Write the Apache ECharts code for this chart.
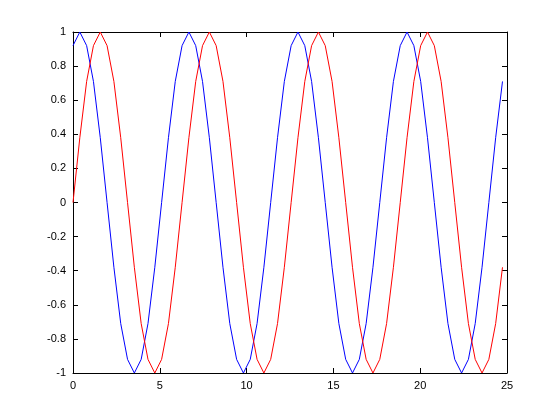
<!DOCTYPE html>
<html>
<head>
<meta charset="utf-8">
<script src="https://cdn.jsdelivr.net/npm/echarts@6/dist/echarts.min.js"></script>
<style>html,body{margin:0;padding:0;background:#fff}#c{width:560px;height:420px}</style>
</head>
<body>
<div id="c"></div>
<script>
var xValues = [0,0.393,0.785,1.178,1.571,1.963,2.356,2.749,3.142,3.534,3.927,4.320,4.712,5.105,5.498,5.890,
  6.283,6.676,7.069,7.461,7.854,8.247,8.639,9.032,9.425,9.817,10.210,10.603,10.996,11.388,11.781,12.174,
  12.566,12.959,13.352,13.744,14.137,14.530,14.923,15.315,15.708,16.101,16.493,16.886,17.279,17.671,18.064,18.457,
  18.850,19.242,19.635,20.028,20.420,20.813,21.206,21.598,21.991,22.384,22.777,23.169,23.562,23.955,24.347,24.740];
var blueValues = [0.92,1,0.92,0.71,0.38,0,-0.38,-0.71,-0.92,-1,-0.92,-0.71,-0.38,0,0.38,0.71,
  0.92,1,0.92,0.71,0.38,0,-0.38,-0.71,-0.92,-1,-0.92,-0.71,-0.38,0,0.38,0.71,
  0.92,1,0.92,0.71,0.38,0,-0.38,-0.71,-0.92,-1,-0.92,-0.71,-0.38,0,0.38,0.71,
  0.92,1,0.92,0.71,0.38,0,-0.38,-0.71,-0.92,-1,-0.92,-0.71,-0.38,0,0.38,0.71];
var redValues = [0,0.38,0.71,0.92,1,0.92,0.71,0.38,0,-0.38,-0.71,-0.92,-1,-0.92,-0.71,-0.38,
  0,0.38,0.71,0.92,1,0.92,0.71,0.38,0,-0.38,-0.71,-0.92,-1,-0.92,-0.71,-0.38,
  0,0.38,0.71,0.92,1,0.92,0.71,0.38,0,-0.38,-0.71,-0.92,-1,-0.92,-0.71,-0.38,
  0,0.38,0.71,0.92,1,0.92,0.71,0.38,0,-0.38,-0.71,-0.92,-1,-0.92,-0.71,-0.38];

function pairs(xs, ys){ return xs.map(function(x,i){ return [x, ys[i]]; }); }

var font = 'Liberation Sans, Arial, Helvetica, sans-serif';
var axisLine = {show:true, onZero:false, lineStyle:{color:'#000', width:1}};
var tick = {show:true, inside:true, length:5, lineStyle:{color:'#000', width:1}};
var chart = echarts.init(document.getElementById('c'), null, {renderer:'canvas'});
chart.setOption({
  animation:false,
  backgroundColor:'#fff',
  grid:{left:73, right:53, top:32, bottom:47, containLabel:false},
  xAxis:[
    {type:'value', min:0, max:25, interval:5, position:'bottom',
     axisLine:axisLine, axisTick:tick, splitLine:{show:false},
     axisLabel:{color:'#000', fontSize:11, fontFamily:font, margin:7}},
    {type:'value', min:0, max:25, interval:5, position:'top',
     axisLine:axisLine, axisTick:tick, splitLine:{show:false}, axisLabel:{show:false}}
  ],
  yAxis:[
    {type:'value', min:-1, max:1, interval:0.2, position:'left',
     axisLine:axisLine, axisTick:tick, splitLine:{show:false},
     axisLabel:{color:'#000', fontSize:11, fontFamily:font, margin:7,
       formatter:function(v){ return String(Math.round(v*10)/10); }}},
    {type:'value', min:-1, max:1, interval:0.2, position:'right',
     axisLine:axisLine, axisTick:tick, splitLine:{show:false}, axisLabel:{show:false}}
  ],
  series:[
    {type:'line', data:pairs(xValues, blueValues), showSymbol:false, symbol:'none',
     lineStyle:{color:'#0000ff', width:1}, itemStyle:{color:'#0000ff'}, xAxisIndex:0, yAxisIndex:0},
    {type:'line', data:pairs(xValues, redValues), showSymbol:false, symbol:'none',
     lineStyle:{color:'#ff0000', width:1}, itemStyle:{color:'#ff0000'}, xAxisIndex:0, yAxisIndex:0}
  ]
});
</script>
</body>
</html>
